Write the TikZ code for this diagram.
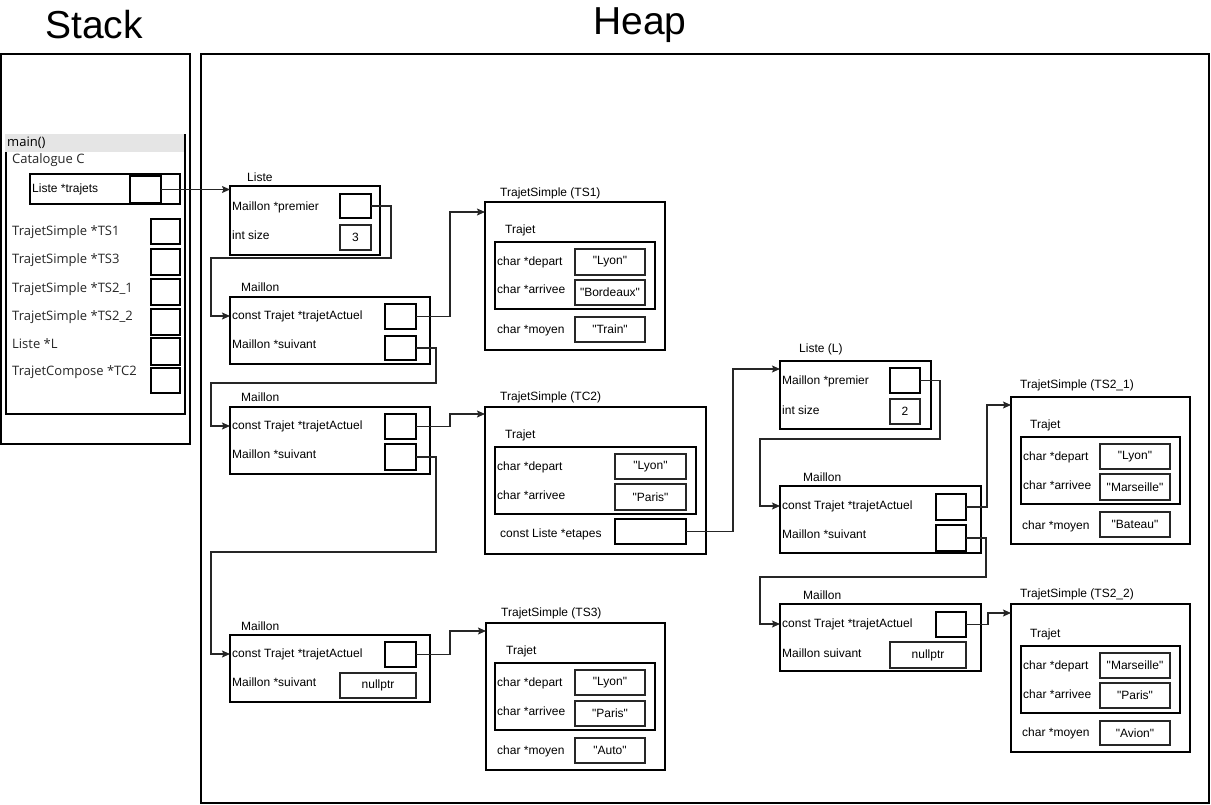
\documentclass[tikz,border=0pt]{standalone}
\usepackage{fontspec}
\setmainfont{Liberation Sans}
\newfontfamily\arialf{Liberation Sans}
\newfontfamily\segoef{Open Sans}
\usetikzlibrary{arrows.meta}
\newcommand\lblfont{\arialf\fontsize{12}{14}\selectfont}
\newcommand\stkfont{\segoef\fontsize{13}{15}\selectfont}
\newcommand\ttlfont{\arialf\fontsize{39}{42}\selectfont}
\newcommand\mybox[6][]{\node[frame,#1,minimum width={#5-#3},minimum height={#6-#4}] (#2) at (#3,#4) {};}
\newcommand\myval[7][]{\node[cell,#1,minimum width={#5-#3},minimum height={#6-#4}] (#2) at (#3,#4) {#7};}
\tikzset{
  frame/.style={draw=black, line width=1.1pt, inner sep=0pt, outer sep=0pt, anchor=north west},
  cell/.style={draw=black!85, line width=1.1pt, inner sep=0pt, outer sep=0pt, anchor=north west, font=\lblfont},
  lbl/.style={anchor=west, inner sep=0pt, font=\lblfont},
  stk/.style={anchor=west, inner sep=0pt, font=\stkfont, text=black!85},
  conn/.style={draw=black!85, line width=1.1pt, -{Stealth[length=8pt,width=7pt,inset=1.5pt]}},
}
\begin{document}
\begin{tikzpicture}[x=1pt,y=-1pt]
\useasboundingbox (0,0) rectangle (1211,805);
% titles
\node[font=\ttlfont, inner sep=0pt] (stacktitle) at (94,25) {Stack};
\node[font=\ttlfont, inner sep=0pt] (heaptitle) at (640,25) {Heap};
% stack
\mybox{stack}{1}{54}{190}{444}
\mybox{heap}{201}{54}{1209}{803}
\fill[black!10] (5,134) rectangle (185,152);
\draw[line width=1.1pt] (6,152) -- (6,414) -- (185,414) -- (185,134);
\node[stk, text=black] (mainlbl) at (7,143) {main()};
\node[stk] (catlbl) at (12,160) {Catalogue C};
\mybox{cat}{30}{174}{180}{204}
\node[lbl] (catl) at (32,189) {Liste *trajets};
\mybox{catp}{130}{176}{161}{203}
\mybox{sTS1}{151}{219}{180}{244}
\mybox{sTS3}{151}{249}{180}{275}
\mybox{sTS21}{151}{279}{180}{305}
\mybox{sTS22}{151}{309}{180}{335}
\mybox{sL}{151}{338}{180}{365}
\mybox{sTC2}{151}{368}{180}{393}
\node[stk] (lTS1) at (12,232) {TrajetSimple *TS1};
\node[stk] (lTS3) at (12,260) {TrajetSimple *TS3};
\node[stk] (lTS21) at (12,289) {TrajetSimple *TS2\_1};
\node[stk] (lTS22) at (12,317) {TrajetSimple *TS2\_2};
\node[stk] (lL) at (12,344) {Liste *L};
\node[stk] (lTC2) at (12,372) {TrajetCompose *TC2};
% Liste
\mybox{liste}{230}{186}{380}{255}
\node[lbl] (listet) at (247,177) {Liste};
\node[lbl] (lpremt) at (232,207) {Maillon *premier};
\node[lbl] (lsizet) at (232,235) {int size};
\mybox{lprem}{340}{194}{371}{218}
\myval{lsize}{340}{225}{371}{250}{3}
% Maillon 1
\mybox{m1}{230}{297}{430}{364}
\node[lbl] (m1t) at (241,287) {Maillon};
\node[lbl] (m1a) at (232,316) {const Trajet *trajetActuel};
\node[lbl] (m1b) at (232,344) {Maillon *suivant};
\mybox{m1ta}{385}{304}{416}{329}
\mybox{m1sv}{385}{336}{416}{360}
% Maillon 2
\mybox{m2}{230}{407}{430}{474}
\node[lbl] (m2t) at (241,397) {Maillon};
\node[lbl] (m2a) at (232,426) {const Trajet *trajetActuel};
\node[lbl] (m2b) at (232,454) {Maillon *suivant};
\mybox{m2ta}{385}{414}{416}{439}
\mybox{m2sv}{385}{444}{416}{470}
% Maillon 3
\mybox{m3}{230}{635}{430}{702}
\node[lbl] (m3t) at (241,626) {Maillon};
\node[lbl] (m3a) at (232,654) {const Trajet *trajetActuel};
\node[lbl] (m3b) at (232,682) {Maillon *suivant};
\mybox{m3ta}{385}{642}{416}{667}
\myval{m3sv}{340}{673}{416}{698}{nullptr}
% TS1
\mybox{ts1}{485}{202}{665}{350}
\node[lbl] (ts1t) at (500,193) {TrajetSimple (TS1)};
\node[lbl] (ts1tr) at (505,230) {Trajet};
\mybox{ts1in}{495}{242}{655}{309}
\node[lbl] (ts1a) at (497,262) {char *depart};
\node[lbl] (ts1b) at (497,289) {char *arrivee};
\node[lbl] (ts1c) at (497,330) {char *moyen};
\myval{ts1d}{575}{249}{645}{275}{"Lyon"}
\myval{ts1e}{575}{280}{645}{305}{"Bordeaux"}
\myval{ts1f}{575}{317}{645}{342}{"Train"}
% TC2
\mybox{tc2}{485}{407}{706}{554}
\node[lbl] (tc2t) at (500,397) {TrajetSimple (TC2)};
\node[lbl] (tc2tr) at (505,435) {Trajet};
\mybox{tc2in}{495}{447}{696}{514}
\node[lbl] (tc2a) at (497,467) {char *depart};
\node[lbl] (tc2b) at (497,495) {char *arrivee};
\node[lbl] (tc2c) at (500,534) {const Liste *etapes};
\myval{tc2d}{615}{454}{686}{479}{"Lyon"}
\myval{tc2e}{615}{484}{686}{510}{"Paris"}
\mybox{tc2f}{615}{519}{686}{544}
% TS3
\mybox{ts3}{486}{623}{665}{770}
\node[lbl] (ts3t) at (501,613) {TrajetSimple (TS3)};
\node[lbl] (ts3tr) at (506,651) {Trajet};
\mybox{ts3in}{495}{663}{655}{730}
\node[lbl] (ts3a) at (497,683) {char *depart};
\node[lbl] (ts3b) at (497,711) {char *arrivee};
\node[lbl] (ts3c) at (497,751) {char *moyen};
\myval{ts3d}{575}{670}{645}{695}{"Lyon"}
\myval{ts3e}{575}{701}{645}{726}{"Paris"}
\myval{ts3f}{575}{738}{645}{763}{"Auto"}
% Liste (L)
\mybox{lstL}{780}{361}{931}{429}
\node[lbl] (lstLt) at (799,349) {Liste (L)};
\node[lbl] (lLa) at (782,381) {Maillon *premier};
\node[lbl] (lLb) at (782,410) {int size};
\mybox{lLprem}{890}{368}{920}{393}
\myval{lLsize}{890}{399}{920}{424}{2}
% Maillon L1
\mybox{mL1}{780}{486}{981}{553}
\node[lbl] (mL1t) at (803,477) {Maillon};
\node[lbl] (mL1a) at (782,506) {const Trajet *trajetActuel};
\node[lbl] (mL1b) at (782,534) {Maillon *suivant};
\mybox{mL1ta}{936}{494}{966}{520}
\mybox{mL1sv}{936}{525}{966}{551}
% Maillon L2
\mybox{mL2}{780}{604}{981}{671}
\node[lbl] (mL2t) at (803,595) {Maillon};
\node[lbl] (mL2a) at (782,624) {const Trajet *trajetActuel};
\node[lbl] (mL2b) at (782,653) {Maillon suivant};
\mybox{mL2ta}{936}{612}{966}{637}
\myval{mL2sv}{890}{642}{966}{668}{nullptr}
% TS2_1
\mybox{ts21}{1011}{397}{1190}{544}
\node[lbl] (ts21t) at (1020,385) {TrajetSimple (TS2\_1)};
\node[lbl] (ts21tr) at (1030,425) {Trajet};
\mybox{ts21in}{1021}{437}{1180}{504}
\node[lbl] (ts21a) at (1023,457) {char *depart};
\node[lbl] (ts21b) at (1023,485) {char *arrivee};
\node[lbl] (ts21c) at (1022,526) {char *moyen};
\myval{ts21d}{1100}{444}{1170}{469}{"Lyon"}
\myval{ts21e}{1100}{474}{1170}{500}{"Marseille"}
\myval{ts21f}{1100}{512}{1170}{537}{"Bateau"}
% TS2_2
\mybox{ts22}{1011}{604}{1190}{752}
\node[lbl] (ts22t) at (1020,594) {TrajetSimple (TS2\_2)};
\node[lbl] (ts22tr) at (1030,634) {Trajet};
\mybox{ts22in}{1021}{646}{1180}{713}
\node[lbl] (ts22a) at (1023,666) {char *depart};
\node[lbl] (ts22b) at (1023,694) {char *arrivee};
\node[lbl] (ts22c) at (1022,733) {char *moyen};
\myval{ts22d}{1100}{653}{1170}{678}{"Marseille"}
\myval{ts22e}{1100}{683}{1170}{708}{"Paris"}
\myval{ts22f}{1100}{721}{1170}{745}{"Avion"}
% connectors
\draw[conn] (catp.east) -- (catp.east -| liste.west);
\draw[conn] (lprem.east) -| (391,258) -| (211,316) -- (m1.west |- m1a.west);
\draw[conn] (m1ta.east) -- ++(34,0) |- ([yshift=-10pt]ts1.north west);
\draw[conn] (m1sv.east) -| (436,383) -| (211,426) -- (m2.west |- m2a.west);
\draw[conn] (m2ta.east) -- ++(34,0) |- ([yshift=-7pt]tc2.north west);
\draw[conn] (m2sv.east) -| (436,552) -| (211,654) -- (m3.west |- m3a.west);
\draw[conn] (m3ta.east) -- ++(34,0) |- ([yshift=-8pt]ts3.north west);
\draw[conn] (tc2f.east) -- ++(47,0) |- ([yshift=-8pt]lstL.north west);
\draw[conn] (lLprem.east) -| (940,439) -| (760,506) -- (mL1.west |- mL1a.west);
\draw[conn] (mL1ta.east) -- ++(21,0) |- ([yshift=-8pt]ts21.north west);
\draw[conn] (mL1sv.east) -| (986,577) -| (760,624) -- (mL2.west |- mL2a.west);
\draw[conn] (mL2ta.east) -- ++(22,0) |- ([yshift=-9pt]ts22.north west);
\end{tikzpicture}
\end{document}
